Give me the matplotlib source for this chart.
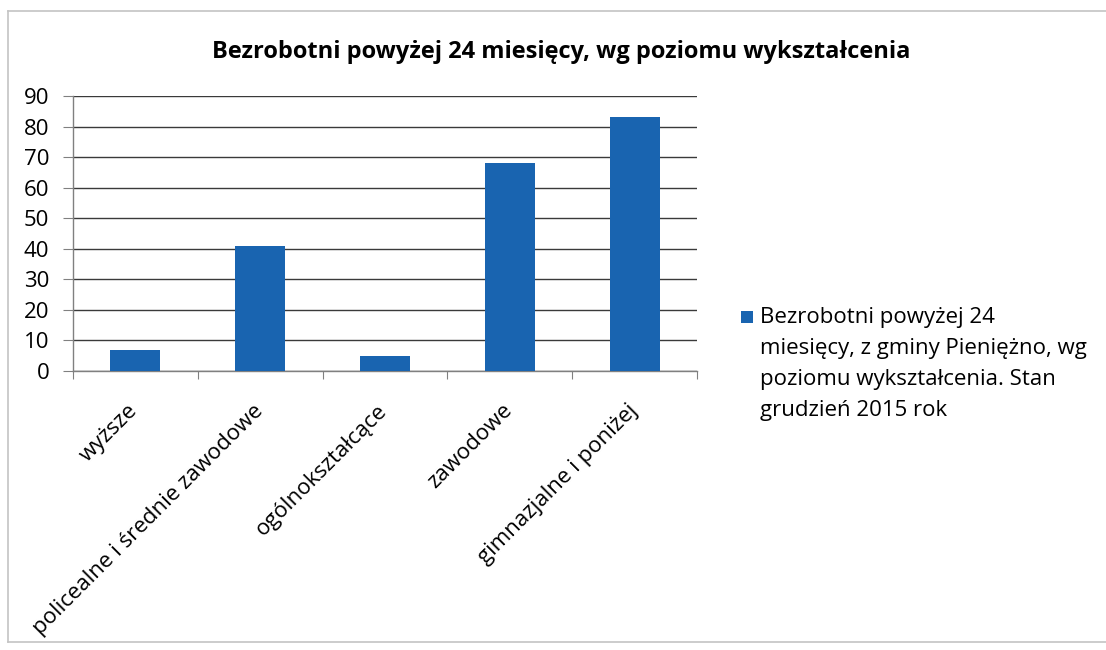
import matplotlib
matplotlib.use("Agg")
import matplotlib.pyplot as plt
from matplotlib.patches import Rectangle
from matplotlib.lines import Line2D
from matplotlib.transforms import ScaledTranslation
import numpy as np

categories = ["wyższe", "policealne i średnie zawodowe", "ogólnokształcące",
              "zawodowe", "gimnazjalne i poniżej"]
values = [7, 41, 5, 68, 83]
yticks = [0, 10, 20, 30, 40, 50, 60, 70, 80, 90]
title = "Bezrobotni powyżej 24 miesięcy, wg poziomu wykształcenia"
legend_label = ("Bezrobotni powyżej 24\nmiesięcy, z gminy Pieniężno, wg\n"
                "poziomu wykształcenia. Stan\ngrudzień 2015 rok")

plt.rcParams['font.family'] = ['Open Sans', 'DejaVu Sans']
W, H = 1106, 650
fig = plt.figure(figsize=(W / 100, H / 100), dpi=100)
fig.patch.set_facecolor("white")

# outer frame (left, top, bottom)
def fline(xa, ya, xb, yb):
    fig.lines.append(Line2D([xa / W, xb / W], [1 - ya / H, 1 - yb / H],
                            transform=fig.transFigure, color="#c4c4c4", linewidth=1.2))
fline(8, 11, 1106, 11)
fline(8, 11, 8, 642)
fline(8, 642, 1106, 642)

x0, x1 = 73, 697
y0, y1 = 371, 96
ax = fig.add_axes([x0 / W, 1 - y0 / H, (x1 - x0) / W, (y0 - y1) / H])

color = "#1964b0"
xs = np.arange(len(categories))
ax.bar(xs, values, width=0.4, color=color, zorder=3)
ax.set_xlim(-0.5, len(categories) - 0.5)
ax.set_ylim(0, 90)
ax.set_yticks(yticks)
ax.set_yticklabels([str(v) for v in yticks], fontsize=16)
ax.yaxis.grid(True, color="#3a3a3a", linewidth=1.0, zorder=0)
ax.set_axisbelow(True)

ax.set_xticks(np.arange(len(categories) + 1) - 0.5)
ax.set_xticklabels([])
ax.set_xticks(xs, minor=True)
ax.set_xticklabels(categories, minor=True, rotation=45, ha="right",
                   rotation_mode="anchor", fontsize=16)
ax.tick_params(axis="x", which="minor", length=0, pad=21)
ax.tick_params(axis="x", which="major", length=6, color="#808080", direction="out")
ax.tick_params(axis="y", length=7, color="#808080", pad=10)
shift = ScaledTranslation(-8 / 100, 0, fig.dpi_scale_trans)
for lab in ax.get_xticklabels(minor=True):
    lab.set_transform(lab.get_transform() + shift)

for s in ["top", "right"]:
    ax.spines[s].set_visible(False)
for s in ["left", "bottom"]:
    ax.spines[s].set_color("#808080")
    ax.spines[s].set_linewidth(1)

fig.text(561 / W, 1 - 52 / H, title, ha="center", va="center",
         fontsize=17, fontweight="bold")

# legend
fig.patches.append(Rectangle((741 / W, 1 - 323 / H), 12 / W, 12 / H,
                             transform=fig.transFigure, facecolor=color, edgecolor="none"))
fig.text(760 / W, 1 - 307 / H, legend_label, ha="left", va="top",
         fontsize=16, linespacing=1.62)

fig.savefig("out.png", dpi=100, facecolor="white")
